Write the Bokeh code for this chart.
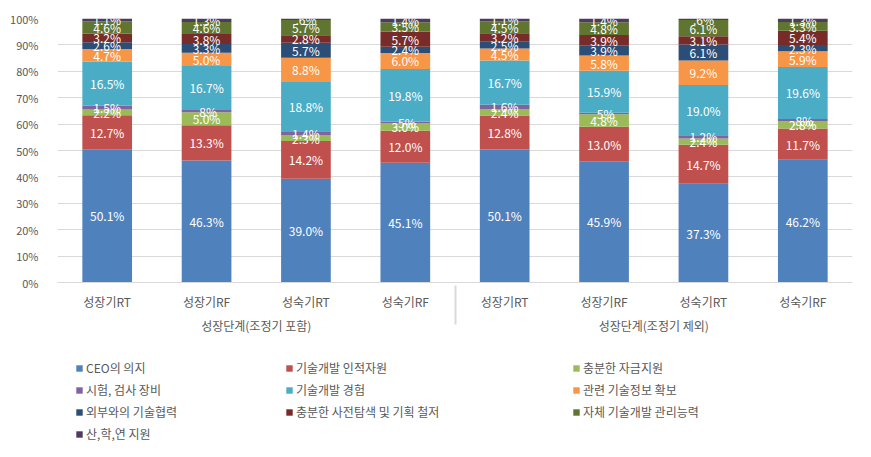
from bokeh.plotting import figure
from bokeh.models import (FactorRange, ColumnDataSource, LabelSet, Legend, LegendItem,
                          NumeralTickFormatter, FixedTicker)
from bokeh.core.properties import value
from bokeh.layouts import column
from bokeh.embed import file_html
from bokeh.resources import INLINE

# ---------------- data ----------------
groups = ["성장단계(조정기 포함)", "성장단계(조정기 제외)"]
stages = ["성장기RT", "성장기RF", "성숙기RT", "성숙기RF"]
series = ["CEO의 의지", "기술개발 인적자원", "충분한 자금지원",
          "시험, 검사 장비", "기술개발 경험", "관련 기술정보 확보",
          "외부와의 기술협력", "충분한 사전탐색 및 기획 철저", "자체 기술개발 관리능력",
          "산,학,연 지원"]
colors = ["#4F81BD", "#C0504D", "#9BBB59", "#8064A2", "#4BACC6", "#F79646",
          "#2C4D75", "#772C2A", "#5F7530", "#4D3B62"]

ceo      = [50.1, 46.3, 39.0, 45.1, 50.1, 45.9, 37.3, 46.2]
human    = [12.7, 13.3, 14.2, 12.0, 12.8, 13.0, 14.7, 11.7]
fund     = [2.2, 5.0, 2.3, 3.0, 2.4, 4.8, 2.4, 2.8]
equip    = [1.5, 0.8, 1.4, 0.5, 1.6, 0.5, 1.2, 0.8]
exper    = [16.5, 16.7, 18.8, 19.8, 16.7, 15.9, 19.0, 19.6]
info     = [4.7, 5.0, 8.8, 6.0, 4.5, 5.8, 9.2, 5.9]
extern   = [2.6, 3.3, 5.7, 2.4, 2.5, 3.9, 6.1, 2.3]
explore  = [3.2, 3.8, 2.8, 5.7, 3.2, 3.9, 3.1, 5.4]
manage   = [4.6, 4.6, 5.7, 3.5, 4.5, 4.8, 6.1, 3.3]
univ     = [1.1, 1.3, 0.6, 1.4, 1.1, 1.4, 0.6, 1.3]

values = [ceo, human, fund, equip, exper, info, extern, explore, manage, univ]

FONT = "Noto Sans CJK KR"
GRAY = "#595959"

factors = [(g, s) for g in groups for s in stages]
keys = [f"s{i}" for i in range(len(series))]
totals = [sum(v[j] for v in values) for j in range(len(factors))]

data = {"x": factors}
for k, v in zip(keys, values):
    data[k] = [v[j] / totals[j] for j in range(len(factors))]
src = ColumnDataSource(data)

# label positions (segment middles)
lx, ly, lt = [], [], []
for j, f in enumerate(factors):
    base = 0.0
    for v in values:
        frac = v[j] / totals[j]
        lx.append(f)
        ly.append(base + frac / 2)
        val = v[j]
        lt.append(f".{int(round(val*10))}%" if val < 1 else f"{val:.1f}%")
        base += frac
lsrc = ColumnDataSource(dict(x=lx, y=ly, t=lt))

# ---------------- main figure ----------------
W = 855
H1 = 350
H2 = 91
xr = FactorRange(*factors, range_padding=0, group_padding=0, factor_padding=0)
p = figure(x_range=xr, y_range=(0, 1), width=W, height=H1,
           output_backend="svg", toolbar_location=None,
           min_border_left=57, min_border_right=W - 852, min_border_top=18,
           min_border_bottom=H1 - 282)
p.outline_line_color = None
p.background_fill_color = "white"
p.border_fill_color = "white"

rs = p.vbar_stack(keys, x="x", width=0.5, source=src, color=colors, line_color=None)

p.add_layout(LabelSet(x="x", y="y", text="t", source=lsrc, text_color="white",
                      text_font=value(FONT), text_font_size="12px", text_align="center",
                      text_baseline="middle"))

p.yaxis.ticker = FixedTicker(ticks=[i / 10 for i in range(11)])
p.yaxis.formatter = NumeralTickFormatter(format="0%")
p.yaxis.axis_line_color = None
p.yaxis.major_tick_line_color = None
p.yaxis.minor_tick_line_color = None
p.yaxis.major_label_standoff = 13
p.yaxis.major_label_text_font = FONT
p.yaxis.major_label_text_font_size = "11px"
p.yaxis.major_label_text_color = GRAY

p.xaxis.axis_line_color = "#D9D9D9"
p.xaxis.major_tick_line_color = None
p.xaxis.minor_tick_line_color = None
p.xaxis.major_label_standoff = 4
p.xaxis.major_label_text_font = FONT
p.xaxis.major_label_text_font_size = "12px"
p.xaxis.major_label_text_color = GRAY
p.xaxis.group_text_font = FONT
p.xaxis.group_text_font_size = "12px"
p.xaxis.group_text_color = GRAY
p.xaxis.group_text_font_style = "normal"
p.xaxis.separator_line_color = "#D9D9D9"

p.xgrid.grid_line_color = None
p.ygrid.grid_line_color = "#D9D9D9"

# ---------------- legend figure (3 columns, row-major order) ----------------
p2 = figure(width=W, height=H2, output_backend="svg", toolbar_location=None,
            x_axis_location=None, y_axis_location=None,
            min_border_left=57, min_border_right=W - 852, min_border_top=0,
            min_border_bottom=0, x_range=(0, 1), y_range=(0, 1))
p2.outline_line_color = None
p2.grid.grid_line_color = None
p2.background_fill_color = "white"
p2.border_fill_color = "white"

swatches = [p2.vbar(x=[-10], top=[-10], width=0.5, color=c, line_color=None)
            for c in colors]

cols_x = [18, 228, 515]   # offsets from frame left
ITEM_H, SP = 17, 5
TOP = 9                   # legend top, px below the top of this figure
for ci in range(3):
    idx = [i for i in range(len(series)) if i % 3 == ci]
    items = [LegendItem(label=series[i], renderers=[swatches[i]]) for i in idx]
    n = len(idx)
    h = n * ITEM_H + (n - 1) * SP
    leg = Legend(items=items, location=(cols_x[ci], H2 - TOP - h),
                 orientation="vertical", padding=0, margin=0, spacing=SP,
                 glyph_width=8, glyph_height=8, label_height=ITEM_H,
                 label_standoff=3, border_line_color=None,
                 background_fill_alpha=0, label_text_font=FONT,
                 label_text_font_size="12px", label_text_color=GRAY)
    p2.add_layout(leg, "center")

layout = column(p, p2, spacing=0)
open("out.html", "w").write(file_html(layout, INLINE))
